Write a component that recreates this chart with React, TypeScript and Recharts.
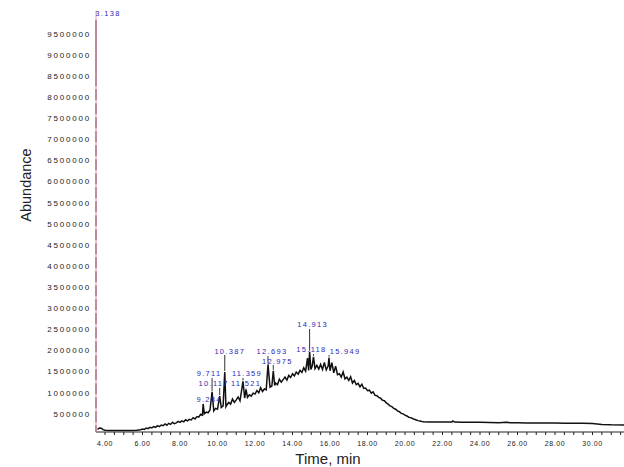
import { ComposedChart, Line, Scatter, XAxis, YAxis, ReferenceLine } from 'recharts'

// chromatogram trace, [time min, abundance]
const EARLY_BASELINE: [number, number][] = [
  [3.6, 130000], [3.7, 165000], [3.8, 160000], [3.9, 125000], [4.0, 112000],
  [4.3, 108000], [4.6, 106000], [5.0, 105000], [5.4, 107000], [5.7, 112000], [5.9, 122000],
]

const RISING_EDGE: [number, number][] = [
  [6.0, 140000], [6.1, 132000], [6.2, 165000], [6.3, 150000], [6.4, 180000],
  [6.5, 168000], [6.6, 200000], [6.7, 182000], [6.8, 220000], [6.9, 198000],
  [7.0, 235000], [7.1, 218000], [7.2, 260000], [7.3, 230000], [7.4, 275000],
  [7.5, 250000], [7.6, 300000], [7.7, 266000], [7.8, 285000], [7.9, 320000],
  [8.0, 298000], [8.1, 332000], [8.2, 310000], [8.3, 360000], [8.4, 335000],
  [8.5, 370000], [8.6, 355000], [8.7, 410000], [8.8, 380000], [8.9, 435000], [9.0, 420000],
]

const HUMP: [number, number][] = [
  [9.1, 490000], [9.2, 470000], [9.234, 735000], [9.3, 500000], [9.4, 540000],
  [9.5, 525000], [9.6, 590000], [9.711, 1020000], [9.8, 570000], [9.9, 630000],
  [10.0, 610000], [10.117, 920000], [10.2, 650000], [10.3, 690000], [10.387, 1490000],
  [10.45, 670000], [10.5, 710000], [10.6, 770000], [10.7, 730000], [10.8, 850000],
  [10.9, 770000], [11.0, 830000], [11.1, 900000], [11.2, 810000], [11.359, 1270000],
  [11.45, 870000], [11.521, 1080000], [11.6, 890000], [11.7, 950000], [11.8, 920000],
  [11.9, 990000], [12.0, 970000], [12.1, 1050000], [12.2, 1000000], [12.3, 1120000],
  [12.4, 1030000], [12.5, 1090000], [12.6, 1070000], [12.693, 1670000], [12.8, 1130000],
  [12.9, 1160000], [12.975, 1520000], [13.05, 1170000], [13.1, 1230000], [13.2, 1190000],
  [13.3, 1320000], [13.4, 1250000], [13.5, 1310000], [13.6, 1370000], [13.7, 1300000],
  [13.8, 1410000], [13.9, 1360000], [14.0, 1450000], [14.1, 1400000], [14.2, 1490000],
  [14.3, 1440000], [14.4, 1530000], [14.5, 1480000], [14.6, 1590000], [14.7, 1510000],
  [14.8, 1820000], [14.86, 1530000], [14.913, 1970000], [14.98, 1550000], [15.05, 1630000],
  [15.118, 1850000], [15.2, 1570000], [15.3, 1650000], [15.4, 1560000], [15.5, 1670000],
  [15.6, 1550000], [15.7, 1720000], [15.8, 1540000], [15.9, 1630000], [15.949, 1830000],
  [16.0, 1520000],
]

const TRAILING_EDGE: [number, number][] = [
  [16.1, 1710000], [16.2, 1470000], [16.3, 1630000], [16.4, 1430000], [16.5, 1450000],
  [16.6, 1370000], [16.7, 1490000], [16.8, 1330000], [16.9, 1370000], [17.0, 1290000],
  [17.1, 1380000], [17.2, 1230000], [17.3, 1290000], [17.4, 1190000], [17.5, 1220000],
  [17.6, 1140000], [17.7, 1200000], [17.8, 1100000], [17.9, 1110000], [18.0, 1050000],
  [18.1, 1060000], [18.2, 990000], [18.3, 1020000], [18.4, 940000], [18.5, 930000],
  [18.6, 890000], [18.7, 870000], [18.8, 820000], [18.9, 810000], [19.0, 760000],
  [19.1, 730000], [19.2, 690000], [19.3, 670000], [19.4, 630000], [19.5, 610000],
  [19.6, 570000], [19.7, 550000], [19.8, 510000], [19.9, 500000], [20.0, 470000],
  [20.1, 450000], [20.2, 420000], [20.3, 410000], [20.4, 390000], [20.5, 370000],
  [20.6, 355000], [20.7, 340000], [20.8, 328000], [20.9, 320000], [21.0, 315000],
]

const LATE_BASELINE: [number, number][] = [
  [21.2, 307000], [21.6, 304000], [22.0, 306000], [22.5, 306000], [22.55, 332000],
  [22.65, 306000], [23.0, 302000], [23.5, 300000], [24.0, 298000], [24.5, 296000],
  [25.0, 292000], [25.4, 300000], [25.6, 292000], [26.0, 288000], [26.5, 285000],
  [27.0, 284000], [27.5, 283000], [28.0, 282000], [28.5, 280000], [29.0, 280000],
  [29.5, 278000], [30.0, 270000], [30.5, 250000], [31.0, 240000], [31.7, 235000],
]

// labelled peaks (3.138 is the off-scale solvent peak at the axis)
const PEAK_TIMES = [3.138, 9.234, 9.711, 10.117, 10.387, 11.359, 11.521, 12.693, 12.975, 14.913, 15.118, 15.949]
const PEAK_NAMES = ['3.138', '9.234', '9.711', '10.117', '10.387', '11.359', '11.521', '12.693', '12.975', '14.913', '15.118', '15.949']
// where each label text sits (abundance units) and its sideways nudge in px
const LABEL_LEVEL = [9970000, 828000, 1445000, 1210000, 1988000, 1445000, 1210000, 1965000, 1751000, 2604000, 2012000, 1988000]
const LABEL_DX = [12, 6, -3, -6, 5, 4, 0, 4, 4, 3, -2, 16]

const Y_TICKS = [500000, 1000000, 1500000, 2000000, 2500000, 3000000, 3500000, 4000000, 4500000,
  5000000, 5500000, 6000000, 6500000, 7000000, 7500000, 8000000, 8500000, 9000000, 9500000]
const X_TICKS = [4, 4.5, 5, 5.5, 6, 6.5, 7, 7.5, 8, 8.5, 9, 9.5, 10, 10.5, 11, 11.5, 12, 12.5, 13, 13.5,
  14, 14.5, 15, 15.5, 16, 16.5, 17, 17.5, 18, 18.5, 19, 19.5, 20, 20.5, 21, 21.5, 22, 22.5, 23, 23.5,
  24, 24.5, 25, 25.5, 26, 26.5, 27, 27.5, 28, 28.5, 29, 29.5, 30, 30.5, 31, 31.5]
const X_LABELLED = [4, 6, 8, 10, 12, 14, 16, 18, 20, 22, 24, 26, 28, 30]

const X_MIN = 3.52
const X_MAX = 31.68
const Y_MIN = 70000
const Y_MAX = 10040000
const PX = 23682 // abundance per pixel, for small label gaps

const FONT = 'Liberation Sans, Arial, sans-serif'
const LABEL_BLUE = '#2a2ab8'

const trace = [...EARLY_BASELINE, ...RISING_EDGE, ...HUMP, ...TRAILING_EDGE, ...LATE_BASELINE].map(([t, v]) => ({ t, v }))

const labelRows = PEAK_TIMES.map((t, i) => ({
  t: Math.max(t, X_MIN),
  v: LABEL_LEVEL[i],
  text: PEAK_NAMES[i],
  dx: LABEL_DX[i],
}))

const stems = PEAK_TIMES.map((t, i) => {
  const apex = trace.find((p) => p.t === t)
  if (!apex) return null
  const top = LABEL_LEVEL[i] - 4 * PX
  if (top <= apex.v + PX) return null
  return { t, top, bottom: apex.v + PX }
}).filter(Boolean) as { t: number; top: number; bottom: number }[]

const PeakLabel = (props: any) => {
  const { cx, cy, payload } = props
  return (
    <text x={cx + payload.dx} y={cy} textAnchor='middle' dominantBaseline='central'
      fontSize={7.5} letterSpacing={1.3} fill={LABEL_BLUE} fontFamily={FONT}>
      {payload.text}
    </text>
  )
}

export default function App() {
  return (
    <div style={{ position: 'absolute', left: 0, top: 0, background: '#fff' }}>
      <ComposedChart width={624} height={467} data={trace} margin={{ top: 11, right: 0, bottom: 0, left: 0 }}>
        <XAxis
          type='number'
          dataKey='t'
          domain={[X_MIN, X_MAX]}
          allowDataOverflow
          ticks={X_TICKS}
          interval={0}
          tickSize={3}
          tickMargin={6}
          height={35}
          stroke='#222'
          tick={{ fontSize: 7, fill: '#222', fontFamily: FONT, letterSpacing: 0.6 }}
          tickFormatter={(v: number) => (X_LABELLED.includes(v) ? v.toFixed(2) : '')}
          label={{
            content: () => (
              <text x={328} y={464} textAnchor='middle' fontSize={15} fill='#222' fontFamily={FONT}>
                Time, min
              </text>
            ),
          }}
        />
        <YAxis
          type='number'
          domain={[Y_MIN, Y_MAX]}
          allowDataOverflow
          ticks={Y_TICKS}
          interval={0}
          width={96}
          tickLine={false}
          tickSize={0}
          tickMargin={5}
          axisLine={{ stroke: '#e9a6b8', strokeWidth: 1.2 }}
          tick={{ fontSize: 8, fill: '#222', fontFamily: FONT, letterSpacing: 1.8 }}
          tickFormatter={(v: number) => String(v)}
          label={{
            content: () => (
              <text x={31} y={185} transform='rotate(-90 31 185)' textAnchor='middle'
                fontSize={14.5} fill='#222' fontFamily={FONT}>
                Abundance
              </text>
            ),
          }}
        />
        {/* off-scale solvent peak running up the axis */}
        <ReferenceLine segment={[{ x: X_MIN, y: 9830000 }, { x: X_MIN, y: 8520000 }]} stroke='#3b2a30' strokeWidth={1.4} />
        <ReferenceLine segment={[{ x: X_MIN, y: 8520000 }, { x: X_MIN, y: Y_MIN }]} stroke='#4a2232' strokeWidth={1.4} strokeDasharray='11 3' />
        {stems.map((s) => (
          <ReferenceLine key={s.t} segment={[{ x: s.t, y: s.top }, { x: s.t, y: s.bottom }]} stroke='#333' strokeWidth={1} />
        ))}
        <Line type='linear' dataKey='v' stroke='#111' strokeWidth={1.5} dot={false} isAnimationActive={false} />
        <Scatter data={labelRows} dataKey='v' shape={PeakLabel} isAnimationActive={false} />
      </ComposedChart>
    </div>
  )
}
